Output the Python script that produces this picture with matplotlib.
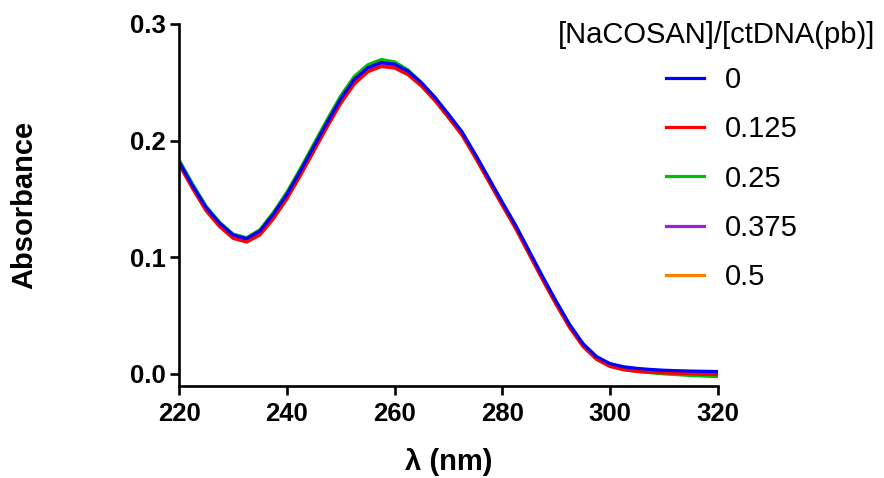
import numpy as np
import matplotlib
matplotlib.use('Agg')
import matplotlib.pyplot as plt

plt.rcParams['font.family'] = ['Liberation Sans', 'DejaVu Sans']

# wavelength (nm)
wl = np.arange(220, 320.1, 2.5)

ratios = ['0', '0.125', '0.25', '0.375', '0.5']
colors = ['#0000FF', '#FF0000', '#00C000', '#9B1FE0', '#FF8000']

abs_0 = [0.1815, 0.1610, 0.1425, 0.1290, 0.1190, 0.1158, 0.1225, 0.1370, 0.1540, 0.1740,
         0.1950, 0.2160, 0.2360, 0.2525, 0.2625, 0.2670, 0.2655, 0.2595, 0.2495, 0.2370,
         0.2225, 0.2075, 0.1880, 0.1675, 0.1470, 0.1270, 0.1050, 0.0830, 0.0620, 0.0420,
         0.0255, 0.0145, 0.0085, 0.0058, 0.0044, 0.0035, 0.0028, 0.0024, 0.0021, 0.0019,
         0.0017]
abs_0125 = [0.1790, 0.1585, 0.1395, 0.1260, 0.1160, 0.1128, 0.1190, 0.1330, 0.1500, 0.1700,
            0.1910, 0.2120, 0.2320, 0.2485, 0.2590, 0.2635, 0.2622, 0.2563, 0.2465, 0.2340,
            0.2195, 0.2045, 0.1850, 0.1645, 0.1440, 0.1240, 0.1020, 0.0800, 0.0590, 0.0392,
            0.0230, 0.0120, 0.0060, 0.0032, 0.0018, 0.0010, 0.0005, 0.0001, -0.0003, -0.0007,
            -0.0010]
abs_025 = [0.1830, 0.1625, 0.1435, 0.1298, 0.1197, 0.1165, 0.1235, 0.1385, 0.1557, 0.1760,
           0.1972, 0.2183, 0.2385, 0.2550, 0.2650, 0.2695, 0.2675, 0.2605, 0.2495, 0.2362,
           0.2212, 0.2060, 0.1865, 0.1660, 0.1455, 0.1255, 0.1035, 0.0815, 0.0603, 0.0403,
           0.0238, 0.0128, 0.0066, 0.0035, 0.0018, 0.0007, -0.0003, -0.0010, -0.0017, -0.0022,
           -0.0027]
abs_0375 = [0.1805, 0.1600, 0.1412, 0.1278, 0.1177, 0.1145, 0.1210, 0.1352, 0.1522, 0.1722,
            0.1932, 0.2142, 0.2342, 0.2507, 0.2608, 0.2652, 0.2638, 0.2578, 0.2480, 0.2355,
            0.2210, 0.2060, 0.1865, 0.1660, 0.1455, 0.1255, 0.1035, 0.0815, 0.0605, 0.0405,
            0.0242, 0.0132, 0.0072, 0.0045, 0.0030, 0.0021, 0.0015, 0.0011, 0.0008, 0.0006,
            0.0004]
abs_05 = [0.1800, 0.1595, 0.1405, 0.1270, 0.1170, 0.1138, 0.1202, 0.1344, 0.1514, 0.1714,
          0.1924, 0.2134, 0.2334, 0.2499, 0.2600, 0.2645, 0.2632, 0.2572, 0.2474, 0.2350,
          0.2205, 0.2055, 0.1860, 0.1655, 0.1450, 0.1250, 0.1030, 0.0810, 0.0600, 0.0400,
          0.0238, 0.0128, 0.0068, 0.0040, 0.0025, 0.0016, 0.0010, 0.0006, 0.0003, 0.0001,
          -0.0001]

series = [abs_0, abs_0125, abs_025, abs_0375, abs_05]

fig = plt.figure(figsize=(8.84, 4.78), dpi=100)
ax = fig.add_axes([0.2028, 0.1925, 0.6092, 0.7573])

lines = {}
# draw highest ratio first so that the blue (0) curve ends on top
for i in reversed(range(len(series))):
    ln, = ax.plot(wl, series[i], color=colors[i], lw=2.3, solid_joinstyle='round')
    lines[i] = ln

ax.set_xlim(220, 320)
ax.set_ylim(-0.0107, 0.3)
ax.set_xticks([220, 240, 260, 280, 300, 320])
ax.set_yticks([0.0, 0.1, 0.2, 0.3])
ax.set_yticklabels(['0.0', '0.1', '0.2', '0.3'])

for s in ['top', 'right']:
    ax.spines[s].set_visible(False)
for s in ['left', 'bottom']:
    ax.spines[s].set_linewidth(1.9)
ax.tick_params(direction='out', length=6.5, width=1.9, labelsize=18.5)
ax.tick_params(axis='y', pad=3.5)
ax.tick_params(axis='x', pad=5)
for lab in ax.get_xticklabels() + ax.get_yticklabels():
    lab.set_fontweight('bold')

ax.set_xlabel('λ (nm)', fontsize=21, fontweight='bold')
ax.xaxis.label.set_va('center')
ax.xaxis.set_label_coords(0.5, -0.21)
ax.set_ylabel('Absorbance', fontsize=21, fontweight='bold')
ax.yaxis.label.set_va('center')
ax.yaxis.set_label_coords(-0.287, 0.5)

fig.text(717 / 884, 1 - 35 / 478, '[NaCOSAN]/[ctDNA(pb)]', fontsize=21,
         ha='center', va='center')
fig.legend([lines[i] for i in range(len(series))], ratios, loc='upper left',
           bbox_to_anchor=(666 / 884, 1 - 66 / 478), frameon=False, fontsize=21,
           handlelength=1.3, handletextpad=0.72, labelspacing=0.73,
           borderpad=0, borderaxespad=0)

fig.savefig('out.png', dpi=100)
